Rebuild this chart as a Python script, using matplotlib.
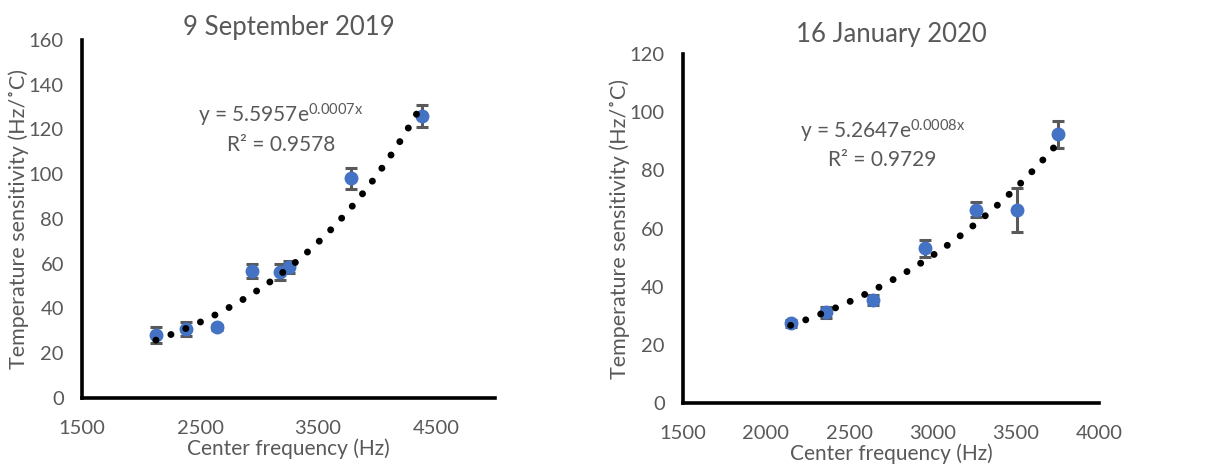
import numpy as np
import matplotlib.pyplot as plt

# 9 September 2019
sep_freq = [2126, 2378, 2647, 2944, 3182, 3250, 3777, 4378]
sep_sens = [28.1, 30.7, 31.6, 56.8, 56.4, 58.6, 98.1, 125.9]
sep_err = [3.5, 3.1, 1.2, 3.2, 3.6, 2.8, 4.8, 5.0]
sep_fit = (5.5957, 0.00072, 0.9578)

# 16 January 2020
jan_freq = [2148, 2362, 2641, 2955, 3260, 3510, 3754]
jan_sens = [27.3, 31.1, 35.4, 53.2, 66.4, 66.4, 92.4]
jan_err = [1.2, 1.8, 1.6, 3.0, 2.6, 7.7, 4.6]
jan_fit = (5.2647, 0.000755, 0.9729)

GREY = '#595959'
BLUE = '#4472C4'
plt.rcParams['font.family'] = ['Lato', 'DejaVu Sans']
plt.rcParams['mathtext.fontset'] = 'custom'
plt.rcParams['mathtext.rm'] = 'Lato'

fig = plt.figure(figsize=(12.22, 4.68), dpi=100)


def panel(rect, freq, sens, err, fit, title, title_pad, xlim, xticks, ylim, yticks, txt_xy):
    ax = fig.add_axes(rect)
    a, k, r2 = fit
    xs = np.linspace(min(freq), max(freq), 200)
    ax.plot(xs, a * np.exp(k * xs), color='black', lw=5,
            linestyle=(0, (0.01, 2.3)), dash_capstyle='round', zorder=3)
    ax.errorbar(freq, sens, yerr=err, fmt='o', color=BLUE, ms=9,
                ecolor=GREY, elinewidth=2.2, capsize=4, capthick=2.2, zorder=2)
    ax.set_xlim(*xlim)
    ax.set_ylim(*ylim)
    ax.set_xticks(xticks)
    ax.set_yticks(yticks)
    for s in ['top', 'right']:
        ax.spines[s].set_visible(False)
    for s in ['left', 'bottom']:
        ax.spines[s].set_linewidth(2.6)
        ax.spines[s].set_color('black')
    ax.tick_params(length=0, labelsize=14.5, labelcolor=GREY)
    ax.tick_params(axis='y', pad=13)
    ax.tick_params(axis='x', pad=16)
    ax.set_title(title, fontsize=18.5, color=GREY, pad=title_pad)
    ax.set_xlabel('Center frequency (Hz)', fontsize=15, color=GREY, labelpad=1)
    ax.set_ylabel('Temperature sensitivity (Hz/˚C)', fontsize=15.5, color=GREY,
                  labelpad=0)
    tx, ty = txt_xy
    ax.text(tx, ty, f'y = {a}e' + f'$\\mathregular{{^{{{k:.4f}x}}}}$',
            transform=ax.transAxes, fontsize=15, color=GREY, ha='center', va='center')
    ax.text(tx, ty - 0.084, f'R² = {r2}', transform=ax.transAxes,
            fontsize=15, color=GREY, ha='center', va='center')
    return ax


panel([0.0671, 0.1496, 0.338, 0.765], sep_freq, sep_sens, sep_err, sep_fit,
      '9 September 2019', -4, (1500, 5000), [1500, 2500, 3500, 4500],
      (0, 160), range(0, 161, 20), (0.482, 0.79))
panel([0.5587, 0.1395, 0.3407, 0.7444], jan_freq, jan_sens, jan_err, jan_fit,
      '16 January 2020', 9, (1500, 4000), range(1500, 4001, 500),
      (0, 120), range(0, 121, 20), (0.48, 0.78))

fig.savefig('out.png', dpi=100)
